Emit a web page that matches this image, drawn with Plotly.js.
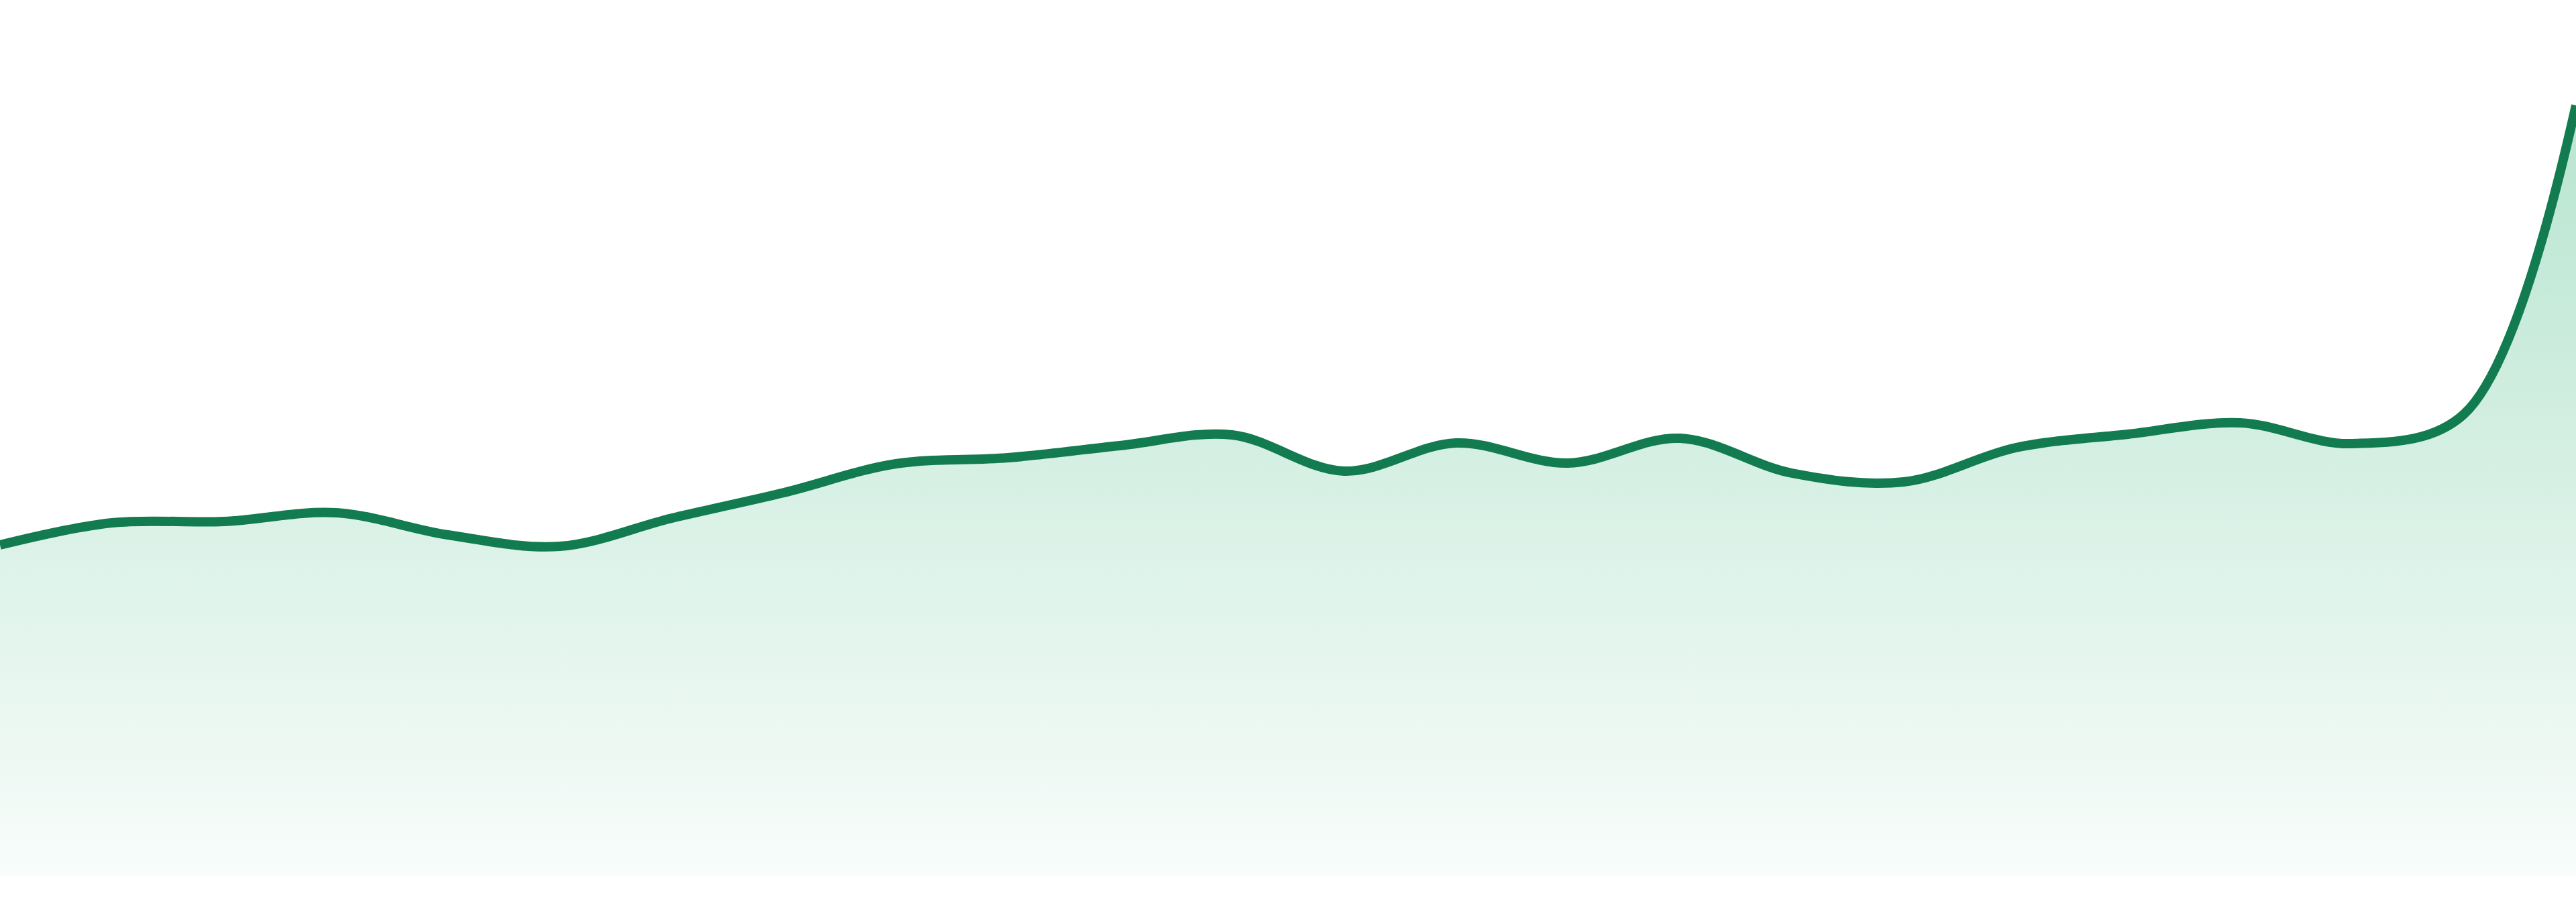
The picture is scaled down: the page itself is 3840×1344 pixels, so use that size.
<!DOCTYPE html>
<html>
<head>
<meta charset="utf-8">
<script src="https://cdn.plot.ly/plotly-3.0.1.min.js"></script>
<style>
    html, body { margin: 0; padding: 0; background: #ffffff; }
    #chart { width: 3840px; height: 1344px; }
</style>
</head>
<body>
<div id="chart"></div>
<script>
// one point per period
let periods = [0, 1, 2, 3, 4, 5, 6, 7, 8, 9, 10, 11, 12, 13, 14, 15, 16, 17, 18, 19, 20, 21, 22, 23]
let values = [49.3, 52.6, 52.8, 54.1, 50.8, 49.1, 53.3, 57.1, 61.4, 62.3, 64.1, 65.7,
    60.3, 64.5, 61.5, 65.2, 60.0, 58.7, 63.8, 65.8, 67.5, 64.4, 68.8, 114.8]

let lineColor = "rgb(19, 123, 80)"

let areaTrace = {
    x: periods,
    y: values,
    type: "scatter",
    mode: "lines",
    line: { color: lineColor, width: 14, shape: "spline", smoothing: 1 },
    fill: "tozeroy",
    fillgradient: {
        type: "vertical",
        colorscale: [
            [0, "rgba(50, 180, 120, 0.035)"],
            [1, "rgba(50, 180, 120, 0.35)"]
        ]
    },
    hoverinfo: "skip"
}

let layout = {
    width: 3840,
    height: 1344,
    margin: { l: 0, r: 0, t: 0, b: 39, pad: 0 },
    paper_bgcolor: "#ffffff",
    plot_bgcolor: "#ffffff",
    showlegend: false,
    xaxis: { range: [0, 23], visible: false, fixedrange: true },
    yaxis: { range: [0, 130.5], visible: false, fixedrange: true }
}

Plotly.newPlot("chart", [areaTrace], layout, { displayModeBar: false, staticPlot: true })
</script>
</body>
</html>
